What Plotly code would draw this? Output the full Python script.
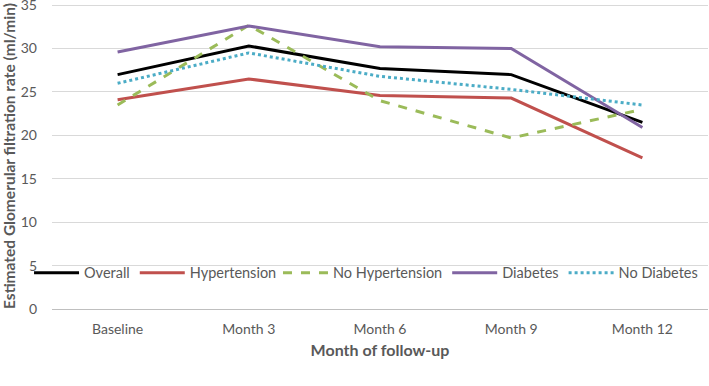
import plotly.graph_objects as go

categories = ["Baseline", "Month 3", "Month 6", "Month 9", "Month 12"]
overall = [27.0, 30.3, 27.7, 27.0, 21.5]
hypertension = [24.1, 26.5, 24.6, 24.3, 17.4]
no_hypertension = [23.5, 32.7, 24.0, 19.7, 23.0]
diabetes = [29.6, 32.6, 30.2, 30.0, 20.9]
no_diabetes = [26.0, 29.5, 26.8, 25.3, 23.5]

series = [
    ("Overall", overall, "#000000", "solid", "legend"),
    ("Hypertension", hypertension, "#C0504D", "solid", "legend"),
    ("No Hypertension", no_hypertension, "#9BBB59", "dash", "legend2"),
    ("Diabetes", diabetes, "#8064A2", "solid", "legend2"),
    ("No Diabetes", no_diabetes, "#4BACC6", "dot", "legend2"),
]

fig = go.Figure()
for name, vals, color, dash, lg in series:
    fig.add_trace(go.Scatter(x=categories, y=vals, name=name, mode="lines", legend=lg,
                             line=dict(color=color, width=3, dash=dash)))

font_family = "Lato, Open Sans, sans-serif"
legend_common = dict(orientation="h", yanchor="middle", xanchor="left",
                     bgcolor="rgba(0,0,0,0)", font=dict(size=14.5, color="#595959"),
                     tracegroupgap=0, itemwidth=45)
fig.update_layout(
    width=709, height=386,
    margin=dict(l=52, r=1, t=3, b=77, autoexpand=False),
    paper_bgcolor="white", plot_bgcolor="white",
    font=dict(family=font_family, size=14, color="#595959"),
    showlegend=True,
    legend=dict(x=-0.035, y=0.118, **legend_common),
    legend2=dict(x=0.3445, y=0.118, **legend_common),
    xaxis=dict(type="category", range=[-0.5, 4.5], showgrid=False, showline=False,
               zeroline=False, ticks="", ticklabelstandoff=10,
               title=dict(text="<b>Month of follow-up</b>", font=dict(size=16, color="#595959"), standoff=8)),
    yaxis=dict(range=[0, 35.25], tickvals=[0, 5, 10, 15, 20, 25, 30, 35],
               showgrid=True, gridcolor="#D9D9D9", gridwidth=1,
               zeroline=True, zerolinecolor="#BFBFBF", zerolinewidth=1,
               showline=False, ticks="", ticklabelstandoff=14, ticklabeloverflow="allow",
               title=dict(text="<b>Estimated Glomerular filtration rate (ml/min)</b>",
                          font=dict(size=15.5, color="#595959"), standoff=1)),
)

fig.write_html("out.html", config={"displayModeBar": False},
               post_script="document.body.style.margin='0';")
